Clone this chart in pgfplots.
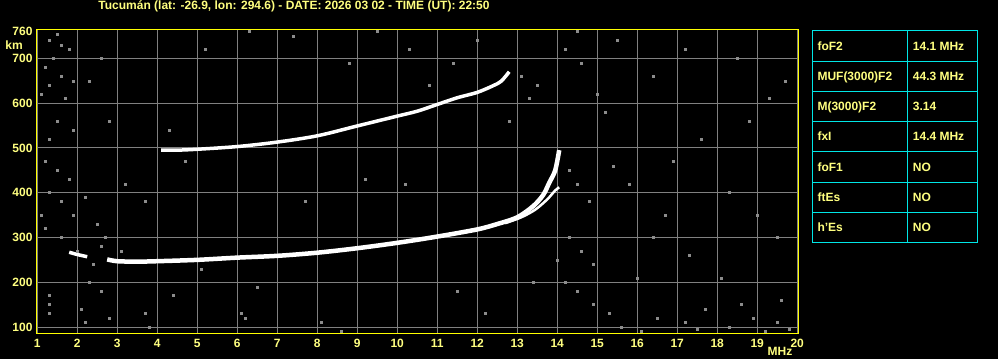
\documentclass[border=0pt]{standalone}
\usepackage{pgfplots}
\pgfplotsset{compat=1.18}
\usepackage{fontspec}
\setmainfont{Liberation Sans}
\definecolor{ylab}{RGB}{255,255,128}
\definecolor{yax}{RGB}{255,255,0}
\definecolor{gridc}{RGB}{128,128,128}
\definecolor{cyanb}{RGB}{0,230,230}
\definecolor{noise}{RGB}{140,140,140}
\newcommand{\lf}{\bfseries\fontsize{12bp}{12bp}\selectfont}
\begin{document}
\begin{tikzpicture}[x=1bp,y=1bp]
\fill[black] (0,0) rectangle (998,359);
\begin{axis}[
  at={(36bp,25.7bp)}, anchor=south west, scale only axis,
  width=762bp, height=303.6bp,
  xmin=0.97, xmax=20.02, ymin=86, ymax=764,
  axis line style={yax, line width=1bp},
  xtick={1,...,20}, ytick={100,200,...,700},
  extra y ticks={760}, extra y tick style={grid=none},
  major tick length=0pt,
  grid=major, grid style={gridc, line width=0.9bp},
  tick label style={font=\lf, text=ylab},
  xticklabel style={yshift=-2bp},
  /pgf/number format/assume math mode=true,
  clip=true,
]
% noise specks
\addplot[only marks, mark=square*, mark size=1bp, color=noise] coordinates {
(1.3,740)(1.5,755)(1.6,730)(1.8,720)(1.4,700)(1.2,680)(1.6,660)(1.9,650)(1.3,640)(1.7,610)
(1.1,620)(1.5,560)(1.3,520)(1.9,540)(2.3,650)(2.6,700)(2.8,560)(1.2,470)(1.5,450)(1.8,430)
(1.3,400)(1.6,380)(1.9,350)(1.2,320)(2.2,390)(2.5,330)(2.7,300)(2.3,200)(2.6,180)(2.1,140)
(2.2,110)(1.3,150)(1.3,130)(1.3,170)(2.8,120)(3.7,130)(3.8,100)(6.1,130)(6.2,120)(8.6,90)
(3.2,420)(3.7,380)(4.3,540)(4.7,470)(5.2,720)(6.3,760)(7.4,750)(9.5,760)(8.8,690)(10.3,720)
(12.0,740)(13.3,610)(13.5,640)(13.1,660)(14.2,720)(14.5,760)(14.6,690)(15.0,620)(15.2,580)
(14.3,450)(14.5,420)(14.8,380)(14.3,300)(14.6,270)(14.9,240)(14.2,200)(14.5,180)(14.9,150)
(15.3,130)(15.6,100)(16.1,90)(16.5,120)(17.2,110)(17.5,95)(17.7,140)(18.3,100)(18.6,150)
(18.9,120)(19.2,90)(19.5,110)(19.8,95)(19.6,160)(18.1,210)(17.3,260)(16.4,300)(16.7,350)
(15.8,420)(16.9,470)(17.6,520)(18.8,560)(19.3,610)(19.7,650)(18.5,700)(17.2,720)(16.4,660)
(15.5,740)(19.0,350)(19.5,300)(18.3,400)(16.0,210)(15.4,460)(12.8,560)(11.4,690)(10.8,640)
(9.2,430)(7.7,380)(6.5,190)(5.1,230)(4.4,170)(11.5,180)(12.2,130)(13.4,200)(14.0,250)
(10.2,420)(8.1,110)(2.0,270)(2.6,280)(3.1,270)(2.4,240)(1.6,300)(1.1,350)
};
% 2F trace
\addplot[white, line width=3.5bp, smooth] coordinates {
(4.1,495)(4.5,495)(5,497)(6,503)(7,513)(8,527)(9,549)(10,571)(10.5,582)(11,597)(11.5,612)(12,624)(12.4,639)(12.6,649)(12.8,670)
};
% F trace (O)
\addplot[white, line width=3.5bp, smooth] coordinates {
(1.8,267)(2.0,262)(2.25,257)
};
\addplot[white, line width=4.5bp, smooth] coordinates {
(2.75,251)(3.0,247)(3.5,246)(4,247)(5,250)(6,255)(7,259)(8,266)(9,276)(10,288)(11,302)(12,318)(12.5,330)(13,345)(13.4,370)(13.65,395)(13.8,422)(13.95,450)(14.05,495)
};
% X branch
\addplot[white, line width=2.5bp, smooth] coordinates {
(12.7,332)(13.1,345)(13.45,362)(13.75,385)(13.95,405)(14.05,412)
};
\end{axis}
% axis name labels
\node[font=\lf, text=ylab] at (14,314) {km};
\node[font=\lf, text=ylab] at (780,7.5) {MHz};
% title
\node[font=\lf, text=ylab] at (294,352.5) {Tucumán (lat: -26.9, lon: 294.6) - DATE: 2026 03 02 - TIME (UT): 22:50};
% table
\draw[cyanb, line width=1bp] (812.3,116.7) rectangle (977.3,328.7);
\draw[cyanb, line width=1bp] (907.3,116.7) -- (907.3,328.7);
\foreach \yy in {297.3,267.7,237.7,207.3,176.7,146.7}{
  \draw[cyanb, line width=1bp] (812.3,\yy) -- (977.3,\yy);
}
\foreach \lab/\val/\cy in {foF2/14.1 MHz/313, MUF(3000)F2/44.3 MHz/282.5, M(3000)F2/3.14/252.7, fxI/14.4 MHz/222.5, foF1/NO/192, ftEs/NO/161.7, h'Es/NO/131.7}{
  \node[font=\lf, text=ylab, anchor=base west, inner sep=0] at (817.3,\cy-4.4) {\lab};
  \node[font=\lf, text=ylab, anchor=base west, inner sep=0] at (912.7,\cy-4.4) {\val};
}
\pgfresetboundingbox
\useasboundingbox (0,0) rectangle (998,359);
\end{tikzpicture}
\end{document}
